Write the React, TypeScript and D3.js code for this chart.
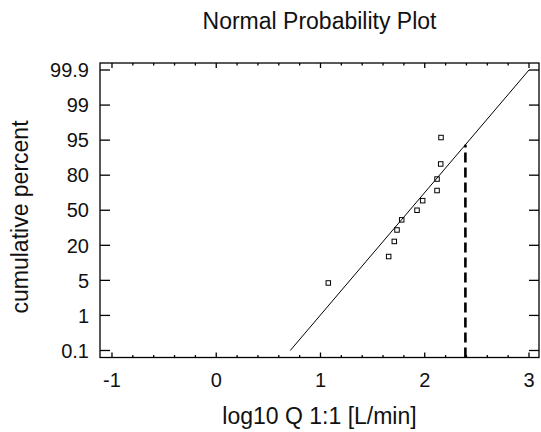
import React from "react";
import * as d3 from "d3";

// ---- data ----
const xTickValues = [-1, 0, 1, 2, 3];
const xTickLabels = ["-1", "0", "1", "2", "3"];
const yTickPercents = [0.1, 1, 5, 20, 50, 80, 95, 99, 99.9];
const yTickLabels = ["0.1", "1", "5", "20", "50", "80", "95", "99", "99.9"];
const dataX = [1.075, 1.654, 1.708, 1.734, 1.779, 1.926, 1.98, 2.118, 2.118, 2.153, 2.156];
const dataP = [4.5, 13.6, 22.7, 31.8, 40.9, 50, 59.1, 68.2, 77.3, 86.4, 95.5];
const fitX = [0.71, 3.0];
const fitP = [0.1, 99.9];
const markerX = [2.39];

const title = "Normal Probability Plot";
const xLabel = "log10 Q 1:1 [L/min]";
const yLabel = "cumulative percent";

// inverse normal CDF (Acklam)
function probit(p: number): number {
  const a = [-3.969683028665376e1, 2.209460984245205e2, -2.759285104469687e2, 1.38357751867269e2, -3.066479806614716e1, 2.506628277459239];
  const b = [-5.447609879822406e1, 1.615858368580409e2, -1.556989798598866e2, 6.680131188771972e1, -1.328068155288572e1];
  const c = [-7.784894002430293e-3, -3.223964580411365e-1, -2.400758277161838, -2.549732539343734, 4.374664141464968, 2.938163982698783];
  const d = [7.784695709041462e-3, 3.224671290700398e-1, 2.445134137142996, 3.754408661907416];
  const pl = 0.02425;
  if (p < pl) {
    const q = Math.sqrt(-2 * Math.log(p));
    return (((((c[0] * q + c[1]) * q + c[2]) * q + c[3]) * q + c[4]) * q + c[5]) / ((((d[0] * q + d[1]) * q + d[2]) * q + d[3]) * q + 1);
  } else if (p <= 1 - pl) {
    const q = p - 0.5;
    const r = q * q;
    return ((((((a[0] * r + a[1]) * r + a[2]) * r + a[3]) * r + a[4]) * r + a[5]) * q) / (((((b[0] * r + b[1]) * r + b[2]) * r + b[3]) * r + b[4]) * r + 1);
  } else {
    const q = Math.sqrt(-2 * Math.log(1 - p));
    return -(((((c[0] * q + c[1]) * q + c[2]) * q + c[3]) * q + c[4]) * q + c[5]) / ((((d[0] * q + d[1]) * q + d[2]) * q + d[3]) * q + 1);
  }
}

const W = 541;
const H = 432;
const left = 100, right = 539, top = 63, bottom = 357.5;
const FONT = "'Liberation Sans', Arial, Helvetica, sans-serif";

export default function App() {
  const x = d3.scaleLinear().domain([-1.115, 3.096]).range([left, right]);
  const tickZ = yTickPercents.map((p) => probit(p / 100));
  const zToIdx = d3.scaleLinear().domain(tickZ).range(d3.range(tickZ.length));
  const idxToPix = d3.scaleLinear().domain([-0.2, tickZ.length - 1 + 0.2]).range([bottom, top]);
  const y = (p: number) => idxToPix(zToIdx(probit(p / 100)));

  const minorX = d3.range(-5, 16).map((i) => i / 5).filter((v) => !xTickValues.includes(v));

  const fitPts: [number, number][] = fitX.map((v, i) => [x(v), y(fitP[i])]);
  const line = d3.line();
  const fitY = d3.scaleLinear().domain([fitPts[0][0], fitPts[1][0]]).range([fitPts[0][1], fitPts[1][1]]);

  const sq = 4.5;

  return (
    <svg width={W} height={H} style={{ position: "absolute", left: 0, top: 0, background: "#fff" }} fontFamily={FONT}>
      <rect x={0} y={0} width={W} height={H} fill="#fff" />
      <text x={(left + right) / 2} y={29} fontSize={23} textAnchor="middle" fill="#111">{title}</text>

      {/* ticks x */}
      {xTickValues.map((v) => (
        <g key={"xt" + v} stroke="#000" strokeWidth={1.3}>
          <line x1={x(v)} x2={x(v)} y1={bottom} y2={bottom - 5} />
          <line x1={x(v)} x2={x(v)} y1={top} y2={top + 5} />
        </g>
      ))}
      {minorX.map((v) => (
        <g key={"xm" + v} stroke="#000" strokeWidth={1.3}>
          <line x1={x(v)} x2={x(v)} y1={bottom} y2={bottom - 2.5} />
          <line x1={x(v)} x2={x(v)} y1={top} y2={top + 2.5} />
        </g>
      ))}
      {/* ticks y */}
      {yTickPercents.map((p) => (
        <g key={"yt" + p} stroke="#000" strokeWidth={1.3}>
          <line x1={left} x2={left + 10} y1={y(p)} y2={y(p)} />
          <line x1={right} x2={right - 10} y1={y(p)} y2={y(p)} />
        </g>
      ))}

      {/* fit line */}
      <path d={line(fitPts) || ""} fill="none" stroke="#000" strokeWidth={1} />
      {/* dashed marker */}
      {markerX.map((v) => (
        <line key={"mk" + v} x1={x(v)} x2={x(v)} y1={bottom} y2={fitY(x(v))} stroke="#000" strokeWidth={2.6} strokeDasharray="10,5" />
      ))}

      {/* points */}
      {dataX.map((v, i) => (
        <rect key={"pt" + i} x={x(v) - sq / 2} y={y(dataP[i]) - sq / 2} width={sq} height={sq} fill="none" stroke="#000" strokeWidth={1} />
      ))}

      {/* box */}
      <rect x={left} y={top} width={right - left} height={bottom - top} fill="none" stroke="#000" strokeWidth={1.3} />

      {/* tick labels */}
      {xTickValues.map((v, i) => (
        <text key={"xl" + v} x={x(v)} y={387} fontSize={20} textAnchor="middle" fill="#111">{xTickLabels[i]}</text>
      ))}
      {yTickPercents.map((p, i) => (
        <text key={"yl" + p} x={89} y={y(p)} dy="0.36em" fontSize={20} textAnchor="end" fill="#111">{yTickLabels[i]}</text>
      ))}

      <text x={(left + right) / 2} y={424} fontSize={23} textAnchor="middle" fill="#111">{xLabel}</text>
      <text transform={`translate(28, 217) rotate(-90)`} fontSize={23} textAnchor="middle" fill="#111">{yLabel}</text>
    </svg>
  );
}
